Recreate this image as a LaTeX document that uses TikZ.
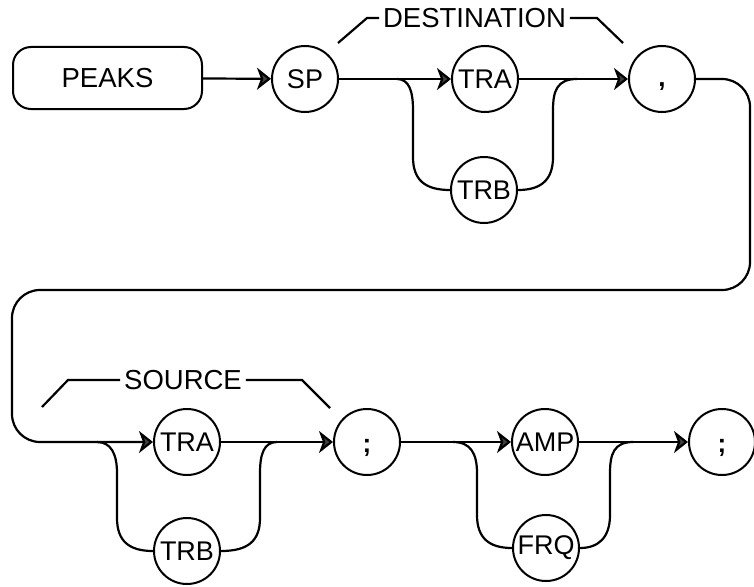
\documentclass[tikz,border=0pt]{standalone}
\usepackage{fontspec}
\setmainfont{Liberation Sans}
\usetikzlibrary{arrows.meta}
\begin{document}
\begin{tikzpicture}[x=1pt,y=-1pt,
  line width=2pt,
  txt/.style={font=\fontsize{27.5}{32}\selectfont},
  ctxt/.style={font=\fontsize{27}{31}\selectfont},
  term/.style={ctxt, draw, circle, minimum size=66pt, inner sep=0pt},
  cmd/.style={txt, draw, rounded corners=18pt, minimum width=189pt, minimum height=62pt},
  lbl/.style={txt, inner sep=3pt},
  commabox/.style={text height=15pt, text depth=0pt, font=\fontsize{26}{30}\selectfont\bfseries},
  semibox/.style={text height=21pt, text depth=0pt, font=\fontsize{26}{30}\selectfont\bfseries},
  arr/.style={-{Stealth[length=14pt,width=22pt,inset=4pt,fill=black!75]}},
  conn/.style={line width=2.2pt}]
\useasboundingbox (0,0) rectangle (754,586);

% nodes
\node[cmd]  (peaks) at (107.5,78) {PEAKS};
\node[term] (sp)    at (305,79) {SP};
\node[term] (tra1)  at (485,79) {TRA};
\node[term] (trb1)  at (484,190) {TRB};
\node[term,commabox] (comma) at (662,79) {,};
\node[term] (tra2)  at (187,442) {TRA};
\node[term] (trb2)  at (187,551) {TRB};
\node[term,semibox] (semi1) at (367,442) {;};
\node[term] (amp)   at (545,442) {AMP};
\node[term] (frq)   at (546,548) {FRQ};
\node[term,semibox] (semi2) at (722,442) {;};

% labels
\node[lbl] (dest) at (474.5,18) {DESTINATION};
\node[lbl] (src)  at (183,380) {SOURCE};
\coordinate (d1) at (338,43);
\coordinate (d2) at (367,18);
\coordinate (d3) at (597,18);
\coordinate (d4) at (623,43);
\coordinate (s1) at (42,407);
\coordinate (s2) at (68,380);
\coordinate (s3) at (302,380);
\coordinate (s4) at (330,408);
\draw[conn] (d1) -- (d2) -- (dest.west);
\draw[conn] (dest.east) -- (d3) -- (d4);
\draw[conn] (s1) -- (s2) -- (src.west);
\draw[conn] (src.east) -- (s3) -- (s4);

% main line top
\draw[conn,arr] (peaks) -- (sp);
\draw[conn,arr] (sp) -- (tra1);
\draw[conn,arr] (tra1) -- (comma);

% top branch
\coordinate (tb1) at (397,79);
\coordinate (tb2) at (577,79);
\draw[conn] (tb1) .. controls (409,79) and (413,91) .. (413,110) -- (413,157)
  .. controls (413,180) and (425,190) .. (trb1.west);
\draw[conn] (trb1.east) .. controls (541,190) and (553,180) .. (553,157) -- (553,110)
  .. controls (553,91) and (557,79) .. (tb2);

% loop
\coordinate (r1) at (750,79);
\coordinate (r2) at (750,290);
\coordinate (l1) at (12,290);
\coordinate (l2) at (12,442);
\draw[conn,arr,rounded corners=28pt] (comma.east) -- (r1) -- (r2) -- (l1) -- (l2) -- (tra2.west);

% main line bottom
\draw[conn,arr] (tra2) -- (semi1);
\draw[conn,arr] (semi1) -- (amp);
\draw[conn,arr] (amp) -- (semi2);

% bottom-left branch
\coordinate (bl1) at (97,442);
\coordinate (bl2) at (277,442);
\draw[conn] (bl1) .. controls (111,442) and (117,454) .. (117,473) -- (117,518)
  .. controls (117,541) and (129,551) .. (trb2.west);
\draw[conn] (trb2.east) .. controls (248,551) and (260,541) .. (260,518) -- (260,473)
  .. controls (260,454) and (264,442) .. (bl2);

% bottom-right branch
\coordinate (br1) at (453,442);
\coordinate (br2) at (633,442);
\draw[conn] (br1) .. controls (471,442) and (477,454) .. (477,473) -- (477,515)
  .. controls (477,538) and (489,548) .. (frq.west);
\draw[conn] (frq.east) .. controls (598,548) and (610,538) .. (610,515) -- (610,473)
  .. controls (610,454) and (614,442) .. (br2);
\end{tikzpicture}
\end{document}
